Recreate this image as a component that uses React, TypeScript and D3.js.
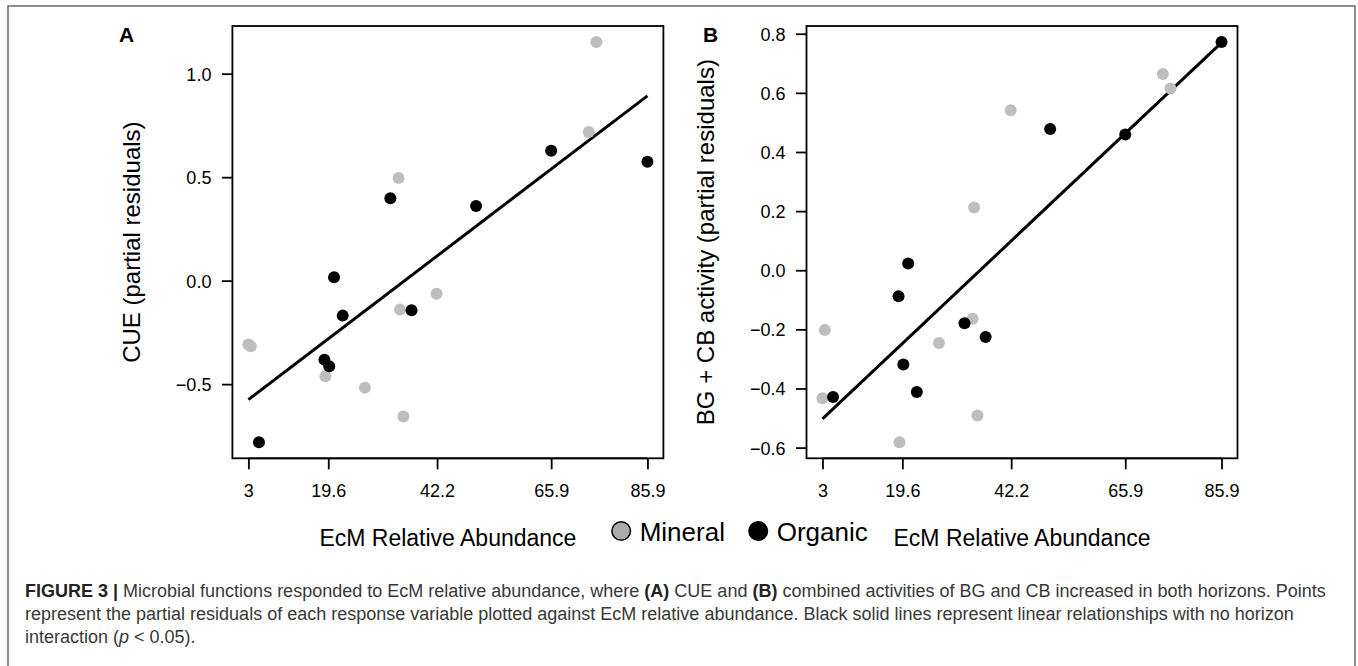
import React, { useEffect, useRef } from 'react';
import * as d3 from 'd3';

// EcM relative abundance (%) of the sampled plots, one array per horizon
const organicEcM = [5.2, 18.8, 19.8, 20.8, 22.6, 32.5, 36.9, 50.3, 65.9, 85.9];
const mineralEcM = [3.0, 3.5, 19.0, 27.2, 34.2, 34.5, 35.2, 42.1, 73.7, 75.3];

// partial residuals, same order as the EcM arrays above
const cueOrganic = [-0.781, -0.382, -0.414, 0.016, -0.169, 0.398, -0.143, 0.361, 0.628, 0.575];
const cueMineral = [-0.309, -0.317, -0.462, -0.518, 0.496, -0.14, -0.656, -0.063, 0.718, 1.153];
const enzOrganic = [-0.429, -0.088, -0.319, 0.023, -0.412, -0.179, -0.226, 0.478, 0.459, 0.772];
const enzMineral = [-0.433, -0.202, -0.582, -0.246, -0.164, 0.212, -0.491, 0.541, 0.664, 0.615];

// fitted lines (no horizon interaction), ends of the EcM range
const fitEcM = [3, 85.9];
const cueFit = [-0.575, 0.893];
const enzFit = [-0.503, 0.77];

const ecmTicks = [3, 19.6, 42.2, 65.9, 85.9];
const cueTicks = [-0.5, 0, 0.5, 1.0];
const enzTicks = [-0.6, -0.4, -0.2, 0, 0.2, 0.4, 0.6, 0.8];

const legendLabels = ['Mineral', 'Organic'];

const FONT = '"Liberation Sans", Arial, Helvetica, sans-serif';
const W = 1358;
const H = 666;
const GRAY = '#bebebe';

function fmt(v: number) {
  return d3.format('.1f')(v).replace('-', '\u2212');
}

// R style 4% padding around the data range
function padded(vals: number[]) {
  const [lo, hi] = d3.extent(vals) as [number, number];
  const p = (hi - lo) * 0.04;
  return [lo - p, hi + p];
}

function drawPanel(svg: any, o: any) {
  const top = 26, bottom = 458.3, width = 431;
  const left = o.left, right = left + width;

  const x = d3.scaleLinear().domain(padded([...organicEcM, ...mineralEcM])).range([left, right]);
  const y = d3.scaleLinear().domain(padded([...o.organic, ...o.mineral])).range([bottom, top]);

  const g = svg.append('g');

  // fitted line
  g.append('line')
    .attr('x1', x(fitEcM[0])).attr('y1', y(o.fit[0]))
    .attr('x2', x(fitEcM[1])).attr('y2', y(o.fit[1]))
    .attr('stroke', '#000').attr('stroke-width', 3);

  g.selectAll('circle.min')
    .data(mineralEcM.map((e, i) => [e, o.mineral[i]]))
    .join('circle').attr('class', 'min')
    .attr('cx', (d: number[]) => x(d[0])).attr('cy', (d: number[]) => y(d[1]))
    .attr('r', 6).attr('fill', GRAY);

  g.selectAll('circle.org')
    .data(organicEcM.map((e, i) => [e, o.organic[i]]))
    .join('circle').attr('class', 'org')
    .attr('cx', (d: number[]) => x(d[0])).attr('cy', (d: number[]) => y(d[1]))
    .attr('r', 6).attr('fill', '#000');

  g.append('rect')
    .attr('x', left).attr('y', top).attr('width', width).attr('height', bottom - top)
    .attr('fill', 'none').attr('stroke', '#000').attr('stroke-width', 1.8);

  // x axis
  const xa = g.append('g').attr('transform', `translate(0,${bottom})`)
    .call(d3.axisBottom(x).tickValues(ecmTicks).tickSize(11).tickSizeOuter(0).tickFormat((d: any) => String(d)));
  xa.select('.domain').attr('d', `M${x(ecmTicks[0])},0H${x(ecmTicks[ecmTicks.length - 1])}`)
    .attr('stroke-width', 1.8);
  xa.selectAll('.tick line').attr('stroke-width', 1.8);
  xa.selectAll('.tick text').attr('y', 0).attr('dy', 38.4)
    .attr('font-size', 18).attr('font-family', FONT).attr('fill', '#000');

  // y axis
  const ya = g.append('g').attr('transform', `translate(${left},0)`)
    .call(d3.axisLeft(y).tickValues(o.yTicks).tickSize(10.5).tickSizeOuter(0).tickFormat((d: any) => fmt(d)));
  ya.select('.domain').remove();
  ya.selectAll('.tick line').attr('stroke-width', 1.8);
  ya.selectAll('.tick text').attr('x', -21).attr('dy', '0.36em')
    .attr('font-size', 18).attr('font-family', FONT).attr('fill', '#000');

  // titles
  svg.append('text')
    .attr('x', (left + right) / 2).attr('y', 545.7)
    .attr('text-anchor', 'middle').attr('font-family', FONT).attr('font-size', 23)
    .text('EcM Relative Abundance');

  svg.append('text')
    .attr('transform', `translate(${o.titleX},${(top + bottom) / 2}) rotate(-90)`)
    .attr('text-anchor', 'middle').attr('font-family', FONT).attr('font-size', 24)
    .text(o.yTitle);

  svg.append('text')
    .attr('x', o.labelX).attr('y', 41.5)
    .attr('font-family', FONT).attr('font-size', 21).attr('font-weight', 'bold')
    .text(o.label);
}

export default function App() {
  const ref = useRef<SVGSVGElement>(null);

  useEffect(() => {
    const svg = d3.select(ref.current);
    svg.selectAll('*').remove();

    // figure frame
    svg.append('path')
      .attr('d', `M8,${H}V6H1355V${H}`)
      .attr('fill', 'none').attr('stroke', '#6b6b6b').attr('stroke-width', 1.5);

    drawPanel(svg, {
      left: 232.4, label: 'A', labelX: 119, titleX: 140,
      yTitle: 'CUE (partial residuals)',
      organic: cueOrganic, mineral: cueMineral, fit: cueFit, yTicks: cueTicks,
    });
    drawPanel(svg, {
      left: 806.5, label: 'B', labelX: 703, titleX: 713.5,
      yTitle: 'BG + CB activity (partial residuals)',
      organic: enzOrganic, mineral: enzMineral, fit: enzFit, yTicks: enzTicks,
    });

    // legend
    const leg = svg.append('g');
    const legX = [621.2, 758.2];
    leg.selectAll('circle').data(legendLabels).join('circle')
      .attr('cx', (_: any, i: number) => legX[i]).attr('cy', 531).attr('r', 9.3)
      .attr('fill', (_: any, i: number) => (i === 0 ? '#ababab' : '#000'))
      .attr('stroke', '#000').attr('stroke-width', 1.5);
    leg.selectAll('text').data(legendLabels).join('text')
      .attr('x', (_: any, i: number) => legX[i] + 18.5).attr('y', 541)
      .attr('font-family', FONT).attr('font-size', 26)
      .text((d: string) => d);

    // caption
    const cap = svg.append('g').attr('font-family', FONT).attr('font-size', 18).attr('fill', '#383838');
    const l1 = cap.append('text').attr('x', 25).attr('y', 597);
    l1.append('tspan').attr('font-weight', 'bold').attr('fill', '#222').text('FIGURE 3 |');
    l1.append('tspan').text(' Microbial functions responded to EcM relative abundance, where ');
    l1.append('tspan').attr('font-weight', 'bold').attr('fill', '#222').text('(A)');
    l1.append('tspan').text(' CUE and ');
    l1.append('tspan').attr('font-weight', 'bold').attr('fill', '#222').text('(B)');
    l1.append('tspan').text(' combined activities of BG and CB increased in both horizons. Points');
    cap.append('text').attr('x', 25).attr('y', 620)
      .text('represent the partial residuals of each response variable plotted against EcM relative abundance. Black solid lines represent linear relationships with no horizon');
    const l3 = cap.append('text').attr('x', 25).attr('y', 643);
    l3.append('tspan').text('interaction (');
    l3.append('tspan').attr('font-style', 'italic').text('p');
    l3.append('tspan').text(' < 0.05).');
  }, []);

  return (
    <div style={{ position: 'absolute', left: 0, top: 0 }}>
      <svg ref={ref} width={W} height={H} style={{ display: 'block', background: '#fff' }} />
    </div>
  );
}
